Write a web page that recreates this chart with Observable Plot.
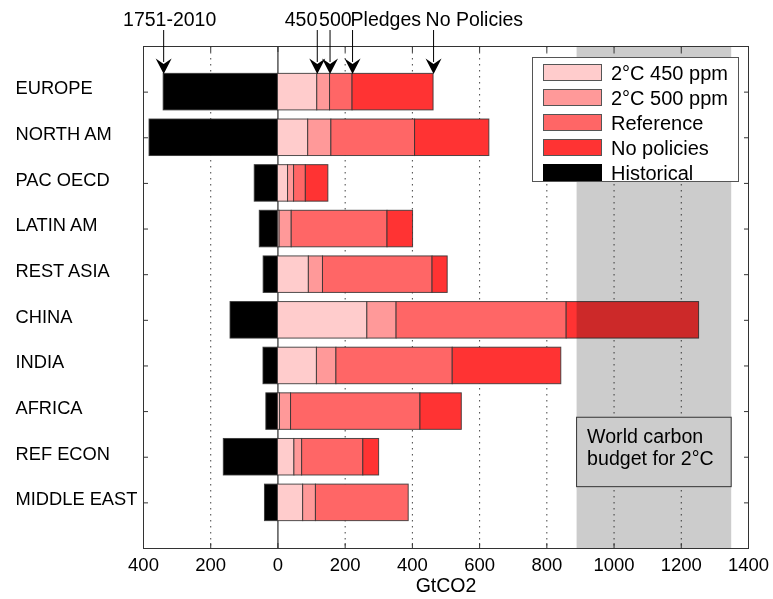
<!DOCTYPE html>
<html><head><meta charset="utf-8">
<script src="https://cdn.jsdelivr.net/npm/d3@7"></script>
<script src="https://cdn.jsdelivr.net/npm/@observablehq/plot@0.6"></script>
<style>
body{margin:0;background:#fff;font-family:"Liberation Sans",Arial,sans-serif;}
#wrap{position:relative;width:773px;height:599px;}
#legend{position:absolute;left:532px;top:57px;width:207px;height:125px;border:1px solid #555;background:#fff;box-sizing:border-box;}
.row{position:absolute;left:10px;height:17px;display:flex;align-items:center;}
.sw{width:59px;height:17px;border:1px solid #555;box-sizing:border-box;flex:none;}
.lab{margin-left:9px;font-size:20px;line-height:20px;color:#000;white-space:nowrap;}
</style></head><body><div id="wrap"></div>
<script>
const regions = ["EUROPE","NORTH AM","PAC OECD","LATIN AM","REST ASIA","CHINA","INDIA","AFRICA","REF ECON","MIDDLE EAST"];
const historical = [-340,-382,-69,-54,-42.5,-141,-43,-34.5,-161,-38.6];
const ppm450 = [117,90,30,5,92,266,116,6,49,75];
const ppm500 = [155,159,48,41,134,353,174,39,72,113];
const reference = [222,408,83,326,460,859,520,424,254,389];
const noPolicies = [463,629,150,402,505,1253,843,547,301,389];
const xTicks = [-400,-200,0,200,400,600,800,1000,1200,1400];
const seriesNames = ["2°C 450 ppm","2°C 500 ppm","Reference","No policies","Historical"];
const seriesColors = ["#ffcccc","#ff9999","#ff6666","#ff3333","#000000"];
const budget = [890,1350];
const budgetLabel = "World carbon\nbudget for 2°C";
const arrowLabels = ["1751-2010","450","500","Pledges","No Policies"];
const axisLabel = "GtCO2";

// build segments
const segs = [];
regions.forEach((r,i)=>{
  const pos = i+1;
  segs.push({pos, x1: historical[i], x2: 0, s: "Historical"});
  const ends = [ppm450[i], ppm500[i], reference[i], noPolicies[i]];
  let prev = 0;
  ends.forEach((e,k)=>{ if (e>prev) segs.push({pos, x1: prev, x2: e, s: seriesNames[k]}); prev = e; });
});

const europeVals = [historical[0], ppm450[0], ppm500[0], reference[0], noPolicies[0]];
const annAnchor = ["middle","end","start","start","start"];
const annDx = [6,0,-11,-2,-8];
const ann = arrowLabels.map((l,k)=>({label:l, v: europeVals[k], anchor: annAnchor[k], dx: annDx[k]}));

const arrowHead = {draw(ctx){ ctx.moveTo(0,0); ctx.lineTo(-8,-15.5); ctx.lineTo(0,-10); ctx.lineTo(8,-15.5); ctx.closePath(); }};

const annTextMarks = ann.map(a => Plot.text([a], {x: "v", y: () => -0.762, text: "label", textAnchor: a.anchor, dx: a.dx, lineAnchor: "top", fontSize: 19.5, fill: "#000"}));

const chart = Plot.plot({
  width: 773, height: 599,
  marginLeft: 143, marginRight: 25, marginTop: 46, marginBottom: 51,
  style: {fontFamily: "'Liberation Sans', Arial, sans-serif", fontSize: "18px", background: "#fff"},
  x: {domain: [-400, 1400]},
  y: {domain: [0, 11], reverse: true},
  color: {domain: seriesNames, range: seriesColors},
  marks: [
    Plot.ruleX(xTicks.filter(d => d !== 0 && d > -400 && d < 1400), {x: d => d, stroke: "#444", strokeDasharray: "1.5,4.5"}),
    Plot.ruleX([0], {x: d => d, stroke: "#000"}),
    Plot.rect(segs, {x1: "x1", x2: "x2", y1: d => d.pos - 0.4, y2: d => d.pos + 0.4, fill: "s", stroke: "#333", strokeOpacity: 0.85, strokeWidth: 1}),
    Plot.rect([budget], {x1: d => d[0], x2: d => d[1], y1: 0, y2: 11, fill: "#cccccc", mixBlendMode: "multiply"}),
    Plot.rect([budget], {x1: d => d[0], x2: d => d[1], y1: 8.135, y2: 9.656, fill: "#cccccc", stroke: "#333"}),
    Plot.text([budgetLabel], {x: budget[0], y: 8.135, dx: 10, dy: 9.5, textAnchor: "start", lineAnchor: "top", fontSize: 19.6, lineHeight: 1.14, fill: "#000"}),
    Plot.frame({stroke: "#333"}),
    Plot.axisX({anchor: "bottom", ticks: xTicks, tickSize: 0, tickPadding: 9, tickFormat: d => String(Math.abs(d)), fontSize: 18.5, label: null}),
    Plot.axisX({anchor: "bottom", ticks: xTicks, tickSize: 5, dy: -5, tickFormat: () => "", label: null, stroke: "#333"}),
    Plot.axisX({anchor: "top", ticks: xTicks, tickSize: 5, dy: 5, tickFormat: () => "", label: null, stroke: "#333"}),
    Plot.axisY({anchor: "left", ticks: d3.range(1, 11), tickSize: 5, dx: 5, tickFormat: () => "", label: null, stroke: "#333"}),
    Plot.axisY({anchor: "right", ticks: d3.range(1, 11), tickSize: 5, dx: -5, tickFormat: () => "", label: null, stroke: "#333"}),
    Plot.text(regions, {y: (d, i) => i + 1, text: d => d, frameAnchor: "left", dx: -128, dy: -3.5, textAnchor: "start", fontSize: 18.3, fill: "#000"}),
    Plot.text([axisLabel], {frameAnchor: "bottom", dy: 30, lineAnchor: "top", fontSize: 19.5, fill: "#000"}),
    Plot.ruleX(ann, {x: "v", y1: -0.35, y2: 0.35, stroke: "#000", strokeWidth: 1}),
    Plot.dot(ann, {x: "v", y: () => 0.6, symbol: arrowHead, fill: "#000", stroke: null}),
    ...annTextMarks
  ]
});
const wrap = document.getElementById("wrap");
wrap.appendChild(chart);
const leg = document.createElement("div");
leg.id = "legend";
seriesNames.forEach((n,k)=>{
  const row = document.createElement("div");
  row.className = "row";
  row.style.top = (6 + k*25) + "px";
  const sw = document.createElement("div");
  sw.className = "sw";
  sw.style.background = seriesColors[k];
  if (k === 4) sw.style.borderColor = "#000";
  const lab = document.createElement("span");
  lab.className = "lab";
  lab.textContent = n;
  row.appendChild(sw); row.appendChild(lab);
  leg.appendChild(row);
});
wrap.appendChild(leg);
</script>
</body></html>
